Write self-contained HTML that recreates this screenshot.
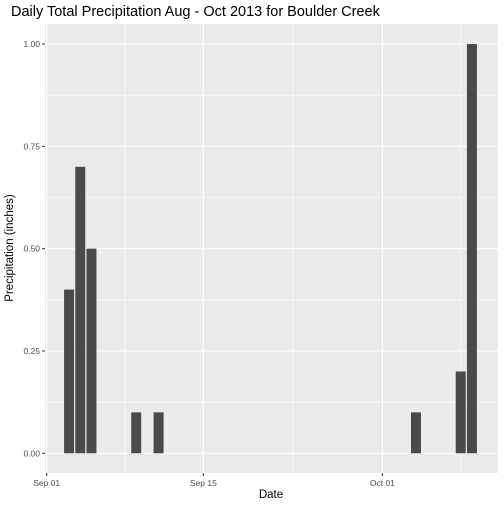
<!DOCTYPE html>
<html><head><style>
body{margin:0;background:#fff;font-family:"Liberation Sans",sans-serif}
</style></head><body>
<svg width="504" height="504" xmlns="http://www.w3.org/2000/svg">
<text x="11" y="16" font-size="14.5" fill="#000">Daily Total Precipitation Aug - Oct 2013 for Boulder Creek</text>
<rect x="45" y="24" width="453" height="449" fill="#ebebeb"/>
<g id="grid"></g><g id="bars"></g><g id="axes"></g>
<text x="271" y="498" font-size="11.5" text-anchor="middle">Date</text>
<text transform="translate(13,248) rotate(-90)" font-size="11.5" text-anchor="middle">Precipitation (inches)</text>
</svg>
<script>
const dayOffsets=[2,3,4,8,10,33,37,38];
const precip=[0.4,0.7,0.5,0.1,0.1,0.1,0.2,1.0];
const yTicks=[0,0.25,0.5,0.75,1];
const yTickLabels=["0.00","0.25","0.50","0.75","1.00"];
const xTickDays=[0,14,30];
const xTickLabels=["Sep 01","Sep 15","Oct 01"];
const xMinorDays=[7,22,37];
const NS="http://www.w3.org/2000/svg";
const X=d=>46.7+d*11.19;
const Y=v=>453.3-v*409.3;
function mk(p,t,a){const e=document.createElementNS(NS,t);for(const k in a)e.setAttribute(k,a[k]);document.getElementById(p).appendChild(e);return e;}
for(let i=0;i<yTicks.length-1;i++){const v=(yTicks[i]+yTicks[i+1])/2;
const l=mk('grid','line',{x1:45,x2:498,y1:Y(v),y2:Y(v),stroke:'#fff','stroke-width':0.6});
}
xMinorDays.forEach(d=>{const l=mk('grid','line',{x1:X(d),x2:X(d),y1:24,y2:473,stroke:'#fff','stroke-width':0.6});
});
yTicks.forEach((v,i)=>{const l=mk('grid','line',{x1:45,x2:498,y1:Y(v),y2:Y(v),stroke:'#fff','stroke-width':1.1});

const t=mk('axes','line',{x1:42,x2:45,y1:Y(v),y2:Y(v),stroke:'#333','stroke-width':1});

const tx=mk('axes','text',{x:40,y:Y(v)+3,'font-size':8.5,'text-anchor':'end',fill:'#4d4d4d'});tx.textContent=yTickLabels[i];
});
xTickDays.forEach((d,i)=>{const l=mk('grid','line',{x1:X(d),x2:X(d),y1:24,y2:473,stroke:'#fff','stroke-width':1.1});

const t=mk('axes','line',{x1:X(d),x2:X(d),y1:473,y2:476,stroke:'#333','stroke-width':1});

const tx=mk('axes','text',{x:X(d),y:486,'font-size':8.5,'text-anchor':'middle',fill:'#4d4d4d'});tx.textContent=xTickLabels[i];
});
dayOffsets.forEach((d,i)=>{const w=10;const r=mk('bars','rect',{x:X(d)-w/2,y:Y(precip[i]),width:w,height:Y(0)-Y(precip[i]),fill:'#4a4a4a'});
});
</script>
</body></html>
